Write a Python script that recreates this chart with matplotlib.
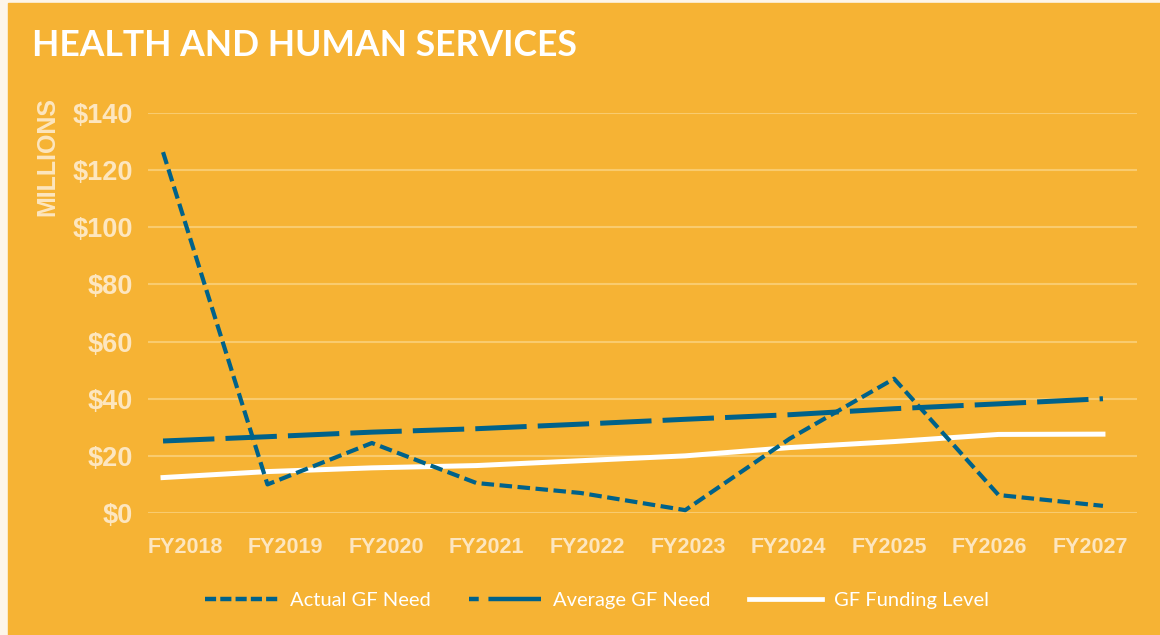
import matplotlib
matplotlib.use("Agg")
import matplotlib.pyplot as plt
from matplotlib.patches import Rectangle
from matplotlib.lines import Line2D

# data ($ millions)
years = ["FY2018", "FY2019", "FY2020", "FY2021", "FY2022",
         "FY2023", "FY2024", "FY2025", "FY2026", "FY2027"]
actual_need = [126.3, 10.0, 24.5, 10.5, 7.0, 1.0, 26.0, 47.0, 6.3, 2.5]
average_need = [25.2, 26.7, 28.3, 29.5, 31.1, 32.8, 34.4, 36.5, 38.2, 40.0]
funding_level = [12.4, 14.5, 15.8, 16.6, 18.3, 20.0, 22.9, 25.0, 27.5, 27.6]
y_ticks = [0, 20, 40, 60, 80, 100, 120, 140]

ORANGE = "#F6B334"
BLUE = "#00628A"
CREAM = "#FDE6BF"
GRID = "#F9CB6E"

plt.rcParams["lines.scale_dashes"] = False

fig = plt.figure(figsize=(11.6, 6.35), dpi=100)
fig.patch.set_facecolor("#FDF5E9")
fig.patches.append(Rectangle((8 / 1160, 0), 1 - 8 / 1160, 1 - 3 / 635,
                             transform=fig.transFigure, color=ORANGE, zorder=-10))

ax = fig.add_axes([148 / 1160, (635 - 513) / 635, 989 / 1160, 400 / 635])
ax.patch.set_alpha(0)

x = list(range(len(years)))
ax.plot(x, actual_need, color=BLUE, lw=3.0, dashes=(9, 4), clip_on=False, zorder=3,
        label="Actual GF Need")
ax.plot(x, average_need, color=BLUE, lw=3.6, dashes=(37, 8), clip_on=False, zorder=3,
        label="Average GF Need")
ax.plot(x, funding_level, color="white", lw=3.6, clip_on=False, zorder=2,
        label="GF Funding Level")

ax.set_xlim(-0.144, 9.326)
ax.set_ylim(0, 140)
ax.set_yticks(y_ticks)
ax.set_yticklabels([f"${v}" for v in y_ticks])
# category labels in the original sit on a slightly narrower band than the points
ax.set_xticks([0.21 + 0.963 * i for i in x])
ax.set_xticklabels(years)
ax.grid(axis="y", color=GRID, lw=1.5)
ax.set_axisbelow(True)
for s in ax.spines.values():
    s.set_visible(False)
ax.tick_params(length=0)
ax.tick_params(axis="y", pad=11, labelsize=19.5, labelcolor=CREAM)
ax.tick_params(axis="x", pad=17, labelsize=15.5, labelcolor=CREAM)
for t in ax.get_yticklabels() + ax.get_xticklabels():
    t.set_fontweight("bold")
    t.set_family("Liberation Sans")

fig.text(47 / 1160, 1 - 156 / 635, "MILLIONS", rotation=90, ha="center", va="center",
         color=CREAM, fontsize=18, fontweight="bold", family="Liberation Sans")

fig.text(32 / 1160, 1 - 46 / 635, "HEALTH AND HUMAN SERVICES", ha="left", va="center",
         color="white", fontsize=25.6, fontweight="bold", family="Lato")

handles = [
    Line2D([], [], color=BLUE, lw=3.2, dashes=(8, 3)),
    Line2D([], [], color=BLUE, lw=3.2, dashes=(7, 7, 38, 7)),
    Line2D([], [], color="white", lw=3.4),
]
leg = fig.legend(handles, ["Actual GF Need", "Average GF Need", "GF Funding Level"],
                 loc="center", bbox_to_anchor=(597 / 1160, 1 - 600 / 635), ncol=3,
                 frameon=False, handlelength=3.6, handletextpad=0.6, columnspacing=1.9,
                 prop={"family": "Lato", "size": 14.5})
for t in leg.get_texts():
    t.set_color("white")

fig.savefig("out.png", dpi=100, facecolor=fig.get_facecolor())
